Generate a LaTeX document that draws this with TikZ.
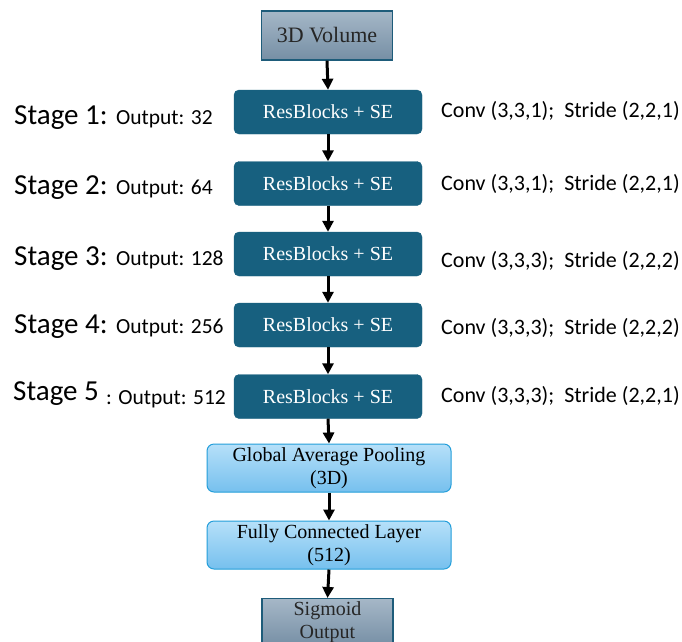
\documentclass[tikz,border=0pt]{standalone}
\usepackage{fontspec}
\setmainfont{Liberation Serif}
\newfontfamily\labelfont{Carlito}
\usetikzlibrary{arrows.meta,positioning}
\definecolor{resteal}{RGB}{23,96,127}
\definecolor{volhi}{RGB}{165,183,199}
\definecolor{vollo}{RGB}{118,143,165}
\definecolor{volrim}{RGB}{30,92,122}
\definecolor{poolhi}{RGB}{182,224,249}
\definecolor{poollo}{RGB}{118,192,238}
\definecolor{poolrim}{RGB}{35,158,218}
\tikzset{
  >={Triangle[length=11pt, width=11pt]},
  flow/.style={->, line width=3pt, draw=black},
  box/.style={
    draw,
    align=center,
    inner sep=0pt,
    font=\fontsize{20}{23}\selectfont
  },
  volbox/.style={box, draw=volrim, line width=1.4pt, top color=volhi, bottom color=vollo,
    text=black!85, minimum width=131pt, minimum height=49pt},
  resbox/.style={box, draw=resteal, fill=resteal, text=white, rounded corners=5pt,
    minimum width=188pt, minimum height=44pt},
  poolbox/.style={box, draw=poolrim, line width=1pt, top color=poolhi, bottom color=poollo,
    rounded corners=7pt, minimum width=244pt, minimum height=48pt},
  stagelabel/.style={inner sep=0pt, anchor=base west, font=\labelfont\fontsize{29}{34}\selectfont},
  outlabel/.style={inner sep=0pt, anchor=base west, font=\labelfont\fontsize{21.5}{26}\selectfont},
  convlabel/.style={outlabel, font=\labelfont\fontsize{22}{26}\selectfont}
}
\begin{document}
\begin{tikzpicture}[x=1pt, y=-1pt]
  \useasboundingbox[fill=white] (0,0) rectangle (682,641);

  % main column
  \node[volbox, font=\fontsize{22}{26}\selectfont] (vol) at (327,35.5) {3D Volume};
  \node[resbox] (res1) at (328,112) {ResBlocks + SE};
  \node[resbox] (res2) at (328,183.5) {ResBlocks + SE};
  \node[resbox] (res3) at (328,254) {ResBlocks + SE};
  \node[resbox] (res4) at (328,325) {ResBlocks + SE};
  \node[resbox] (res5) at (328,396.5) {ResBlocks + SE};
  \node[poolbox] (gap) at (329,468) {Global Average Pooling\\(3D)};
  \node[poolbox] (fc) at (329,545) {Fully Connected Layer\\(512)};
  \node[volbox, anchor=north, minimum height=47pt] (sig) at (327.5,598) {Sigmoid\\Output};

  \draw[flow] (vol.south) -- (res1.north);
  \draw[flow] (res1.south) -- (res2.north);
  \draw[flow] (res2.south) -- (res3.north);
  \draw[flow] (res3.south) -- (res4.north);
  \draw[flow] (res4.south) -- (res5.north);
  \draw[flow] (res5.south) -- (gap.north);
  \draw[flow] (gap.south) -- (fc.north);
  \draw[flow] (fc.south) -- (sig.north);

  % stage labels
  \node[stagelabel] (stage1) at (14,124) {Stage 1:};
  \node[outlabel] (out1) at (116,124) {Output: 32};
  \node[stagelabel] (stage2) at (14,194) {Stage 2:};
  \node[outlabel] (out2) at (116,194) {Output: 64};
  \node[stagelabel] (stage3) at (14,265) {Stage 3:};
  \node[outlabel] (out3) at (116,265) {Output: 128};
  \node[stagelabel] (stage4) at (14,333) {Stage 4:};
  \node[outlabel] (out4) at (116,333) {Output: 256};
  \node[stagelabel] (stage5) at (13,400) {Stage 5};
  \node[outlabel] (out5) at (106,404) {: Output: 512};

  % conv settings
  \node[convlabel] (conv1) at (441,117) {Conv (3,3,1);\ \ Stride (2,2,1)};
  \node[convlabel] (conv2) at (441,190) {Conv (3,3,1);\ \ Stride (2,2,1)};
  \node[convlabel] (conv3) at (441,267) {Conv (3,3,3);\ \ Stride (2,2,2)};
  \node[convlabel] (conv4) at (441,334) {Conv (3,3,3);\ \ Stride (2,2,2)};
  \node[convlabel] (conv5) at (441,402) {Conv (3,3,3);\ \ Stride (2,2,1)};
\end{tikzpicture}
\end{document}
